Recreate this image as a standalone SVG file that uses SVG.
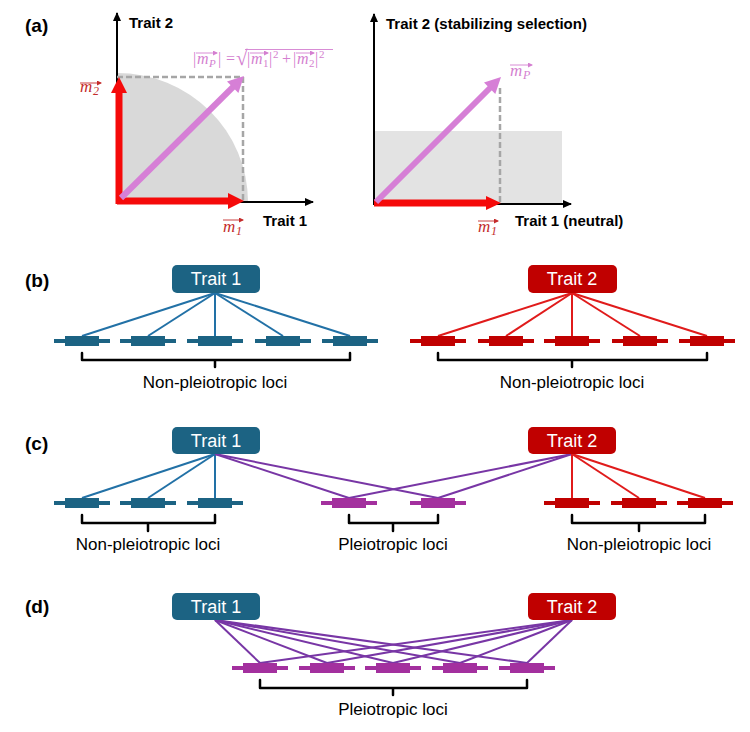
<svg xmlns="http://www.w3.org/2000/svg" width="750" height="732" viewBox="0 0 750 732">
<defs>
<marker id="ax" markerUnits="userSpaceOnUse" markerWidth="10" markerHeight="10" refX="8" refY="4" orient="auto"><path d="M0,0 L9,4 L0,8 Z" fill="#000"/></marker>
<marker id="vr" markerUnits="userSpaceOnUse" markerWidth="6" markerHeight="6" refX="4" refY="2.5" orient="auto"><path d="M0,0 L5,2.5 L0,5 Z" fill="#c42b2b"/></marker>
<marker id="vp" markerUnits="userSpaceOnUse" markerWidth="6" markerHeight="6" refX="4" refY="2.5" orient="auto"><path d="M0,0 L5,2.5 L0,5 Z" fill="#d47fd0"/></marker>
</defs>
<style>
.lab{font-family:"Liberation Sans",Arial,sans-serif;font-weight:bold;fill:#000}
.pl{font-family:"Liberation Sans",Arial,sans-serif;font-weight:bold;font-size:19px;fill:#000}
.ax{stroke:#000;stroke-width:2;fill:none;marker-end:url(#ax)}
.dash{stroke:#a6a6a6;stroke-width:2.5;stroke-dasharray:6 3;fill:none}
.red{stroke:#f50a0a;stroke-width:7;fill:none}
.pink{stroke:#d67fd6;stroke-width:6;fill:none}
.mr{font-family:"Liberation Serif","Times New Roman",serif;font-style:italic;fill:#c42b2b}
.mp{font-family:"Liberation Serif","Times New Roman",serif;fill:#d47fd0}
.vr{stroke:#c42b2b;stroke-width:0.9;marker-end:url(#vr)}
.vp{stroke:#d47fd0;stroke-width:0.9;marker-end:url(#vp)}
.box1{fill:#1c6383}
.box2{fill:#c00000}
.bt{font-family:"Liberation Sans",Arial,sans-serif;font-size:18px;fill:#fff;text-anchor:middle}
.lt{font-family:"Liberation Sans",Arial,sans-serif;font-size:17px;fill:#000;text-anchor:middle}
.brk{stroke:#000;stroke-width:2.5;fill:none;stroke-linejoin:round;stroke-linecap:round}
.l1{stroke:#2271a6;stroke-width:2}
.l2{stroke:#e01b1b;stroke-width:2}
.lp{stroke:#7836a5;stroke-width:2}
.c1{fill:#1c6383}
.c2{fill:#c00000}
.cp{fill:#a3309e}
</style>

<!-- Panel (a) -->
<g id="panel-a">
<text class="pl" x="25" y="32">(a)</text>
<g id="a-left">
<path d="M117,202 L117,73 A131,129 0 0 1 248,202 Z" fill="#d9d9d9"/>
<line class="ax" x1="117" y1="203" x2="117" y2="13"/>
<line class="ax" x1="116" y1="202" x2="313" y2="202"/>
<polyline class="dash" points="117,77 243,77 243,202"/>
<line class="red" x1="117" y1="201" x2="230" y2="201"/>
<polygon points="228,193 244,201 228,209" fill="#f50a0a"/>
<line class="red" x1="119" y1="204" x2="119" y2="91"/>
<polygon points="111,93 119,77 127,93" fill="#f50a0a"/>
<line class="pink" x1="121" y1="198" x2="234" y2="86"/>
<polygon points="244,76 238.4,93 227,81.6" fill="#d67fd6"/>
<text class="lab" x="129" y="28" font-size="15">Trait 2</text>
<text class="lab" x="263" y="226" font-size="15">Trait 1</text>
<text class="mr" x="80" y="92" font-size="17">m</text><text class="mr" x="93" y="95" font-size="12" font-style="normal">2</text>
<line class="vr" x1="80" y1="83" x2="101" y2="83"/>
<text class="mr" x="223" y="232" font-size="17">m</text><text class="mr" x="236" y="235" font-size="12" font-style="normal">1</text>
<line class="vr" x1="223" y1="220" x2="243" y2="220"/>
<g id="formula">
<text class="mp" font-size="16" y="64"><tspan x="193">|</tspan><tspan x="197" font-style="italic">m</tspan><tspan x="209" font-size="11" font-style="italic" dy="3">P</tspan><tspan x="218" dy="-3">|</tspan><tspan x="226">=</tspan><tspan x="236" font-size="21" dy="1">√</tspan><tspan x="247" dy="-1">|</tspan><tspan x="251" font-style="italic">m</tspan><tspan x="263" font-size="11" dy="3">1</tspan><tspan x="269" dy="-3">|</tspan><tspan x="273" font-size="11" dy="-6">2</tspan><tspan x="282" dy="6">+</tspan><tspan x="293">|</tspan><tspan x="297" font-style="italic">m</tspan><tspan x="309" font-size="11" dy="3">2</tspan><tspan x="315" dy="-3">|</tspan><tspan x="319" font-size="11" dy="-6">2</tspan></text>
<line x1="245" y1="49.5" x2="333" y2="49.5" stroke="#d47fd0" stroke-width="0.9"/>
<line class="vp" x1="196" y1="53" x2="217" y2="53"/>
<line class="vp" x1="250" y1="53" x2="268" y2="53"/>
<line class="vp" x1="296" y1="53" x2="314" y2="53"/>
</g>
</g>
<g id="a-right">
<rect x="374" y="131" width="188" height="73" fill="#e3e3e3"/>
<line class="ax" x1="374" y1="205" x2="374" y2="14"/>
<line class="ax" x1="373" y1="204" x2="571" y2="204"/>
<line class="dash" x1="500" y1="88" x2="500" y2="203"/>
<line class="red" x1="374" y1="203" x2="488" y2="203"/>
<polygon points="486,196 501,203 486,210" fill="#f50a0a"/>
<line class="pink" x1="376" y1="202" x2="491" y2="87"/>
<polygon points="501,77 495.3,94 484,82.6" fill="#d67fd6"/>
<text class="lab" x="386" y="29" font-size="15">Trait 2 (stabilizing selection)</text>
<text class="lab" x="515" y="226" font-size="15">Trait 1 (neutral)</text>
<text class="mr" x="478" y="232" font-size="17">m</text><text class="mr" x="491" y="235" font-size="12" font-style="normal">1</text>
<line class="vr" x1="478" y1="221" x2="498" y2="221"/>
<text class="mp" x="510" y="76" font-size="17" font-style="italic">m</text><text class="mp" x="523" y="79" font-size="12" font-style="italic">P</text>
<line class="vp" x1="510" y1="65" x2="532" y2="65"/>
</g>
</g>

<!-- Connectors -->
<g id="connectors">
<!-- (b) -->
<g class="l1">
<line x1="215" y1="293" x2="82" y2="336"/><line x1="215" y1="293" x2="148" y2="336"/><line x1="215" y1="293" x2="215" y2="336"/><line x1="215" y1="293" x2="283" y2="336"/><line x1="215" y1="293" x2="350" y2="336"/>
</g>
<g class="l2">
<line x1="572" y1="293" x2="438" y2="336"/><line x1="572" y1="293" x2="506" y2="336"/><line x1="572" y1="293" x2="572" y2="336"/><line x1="572" y1="293" x2="640" y2="336"/><line x1="572" y1="293" x2="707" y2="336"/>
</g>
<!-- (c) -->
<g class="l1">
<line x1="215" y1="454" x2="82" y2="498"/><line x1="215" y1="454" x2="148" y2="498"/><line x1="215" y1="454" x2="215" y2="498"/>
</g>
<g class="lp">
<line x1="215" y1="454" x2="349" y2="498"/><line x1="215" y1="454" x2="438" y2="498"/><line x1="572" y1="454" x2="349" y2="498"/><line x1="572" y1="454" x2="438" y2="498"/>
</g>
<g class="l2">
<line x1="572" y1="454" x2="572" y2="498"/><line x1="572" y1="454" x2="639" y2="498"/><line x1="572" y1="454" x2="705" y2="498"/>
</g>
<!-- (d) -->
<g class="lp">
<line x1="215" y1="620" x2="260" y2="663"/><line x1="215" y1="620" x2="327" y2="663"/><line x1="215" y1="620" x2="393" y2="663"/><line x1="215" y1="620" x2="460" y2="663"/><line x1="215" y1="620" x2="527" y2="663"/>
<line x1="572" y1="620" x2="260" y2="663"/><line x1="572" y1="620" x2="327" y2="663"/><line x1="572" y1="620" x2="393" y2="663"/><line x1="572" y1="620" x2="460" y2="663"/><line x1="572" y1="620" x2="527" y2="663"/>
</g>
</g>

<!-- Panel (b) -->
<g id="panel-b">
<text class="pl" x="25" y="287">(b)</text>
<g id="b-trait1"><rect class="box1" x="172" y="265" width="88" height="28" rx="5"/><text class="bt" x="216" y="285">Trait 1</text></g>
<g id="b-trait2"><rect class="box2" x="528" y="265" width="89" height="28" rx="5"/><text class="bt" x="572" y="285">Trait 2</text></g>
<g id="b-loci1" class="c1">
<rect x="54" y="339" width="56" height="4"/><rect x="65" y="336" width="34" height="10"/>
<rect x="120" y="339" width="56" height="4"/><rect x="131" y="336" width="34" height="10"/>
<rect x="187" y="339" width="56" height="4"/><rect x="198" y="336" width="34" height="10"/>
<rect x="255" y="339" width="56" height="4"/><rect x="266" y="336" width="34" height="10"/>
<rect x="322" y="339" width="56" height="4"/><rect x="333" y="336" width="34" height="10"/>
</g>
<g id="b-loci2" class="c2">
<rect x="410" y="339" width="56" height="4"/><rect x="421" y="336" width="34" height="10"/>
<rect x="478" y="339" width="56" height="4"/><rect x="489" y="336" width="34" height="10"/>
<rect x="544" y="339" width="56" height="4"/><rect x="555" y="336" width="34" height="10"/>
<rect x="612" y="339" width="56" height="4"/><rect x="623" y="336" width="34" height="10"/>
<rect x="679" y="339" width="56" height="4"/><rect x="690" y="336" width="34" height="10"/>
</g>
<path class="brk" d="M82,353 L82,360 L350,360 L350,353 M215,360 L215,367"/>
<path class="brk" d="M438,353 L438,360 L707,360 L707,353 M572,360 L572,367"/>
<text class="lt" x="215" y="388">Non-pleiotropic loci</text>
<text class="lt" x="572" y="388">Non-pleiotropic loci</text>
</g>

<!-- Panel (c) -->
<g id="panel-c">
<text class="pl" x="25" y="450">(c)</text>
<g id="c-trait1"><rect class="box1" x="172" y="427" width="88" height="27" rx="5"/><text class="bt" x="216" y="447">Trait 1</text></g>
<g id="c-trait2"><rect class="box2" x="528" y="427" width="88" height="27" rx="5"/><text class="bt" x="572" y="447">Trait 2</text></g>
<g id="c-loci1" class="c1">
<rect x="54" y="501" width="56" height="4"/><rect x="65" y="498" width="34" height="10"/>
<rect x="120" y="501" width="56" height="4"/><rect x="131" y="498" width="34" height="10"/>
<rect x="187" y="501" width="56" height="4"/><rect x="198" y="498" width="34" height="10"/>
</g>
<g id="c-locip" class="cp">
<rect x="321" y="501" width="56" height="4"/><rect x="332" y="498" width="34" height="10"/>
<rect x="410" y="501" width="56" height="4"/><rect x="421" y="498" width="34" height="10"/>
</g>
<g id="c-loci2" class="c2">
<rect x="544" y="501" width="56" height="4"/><rect x="555" y="498" width="34" height="10"/>
<rect x="611" y="501" width="56" height="4"/><rect x="622" y="498" width="34" height="10"/>
<rect x="677" y="501" width="56" height="4"/><rect x="688" y="498" width="34" height="10"/>
</g>
<path class="brk" d="M82,515 L82,523 L215,523 L215,515 M148,523 L148,531"/>
<path class="brk" d="M349,515 L349,523 L438,523 L438,515 M393,523 L393,531"/>
<path class="brk" d="M572,515 L572,523 L705,523 L705,515 M639,523 L639,531"/>
<text class="lt" x="148" y="550">Non-pleiotropic loci</text>
<text class="lt" x="393" y="550">Pleiotropic loci</text>
<text class="lt" x="639" y="550">Non-pleiotropic loci</text>
</g>

<!-- Panel (d) -->
<g id="panel-d">
<text class="pl" x="25" y="613">(d)</text>
<g id="d-trait1"><rect class="box1" x="172" y="593" width="88" height="27" rx="5"/><text class="bt" x="216" y="613">Trait 1</text></g>
<g id="d-trait2"><rect class="box2" x="528" y="593" width="88" height="27" rx="5"/><text class="bt" x="572" y="613">Trait 2</text></g>
<g id="d-loci" class="cp">
<rect x="232" y="666" width="56" height="4"/><rect x="243" y="663" width="34" height="10"/>
<rect x="299" y="666" width="56" height="4"/><rect x="310" y="663" width="34" height="10"/>
<rect x="365" y="666" width="56" height="4"/><rect x="376" y="663" width="34" height="10"/>
<rect x="432" y="666" width="56" height="4"/><rect x="443" y="663" width="34" height="10"/>
<rect x="499" y="666" width="56" height="4"/><rect x="510" y="663" width="34" height="10"/>
</g>
<path class="brk" d="M260,680 L260,688 L527,688 L527,680 M393,688 L393,695"/>
<text class="lt" x="393" y="715">Pleiotropic loci</text>
</g>
</svg>
